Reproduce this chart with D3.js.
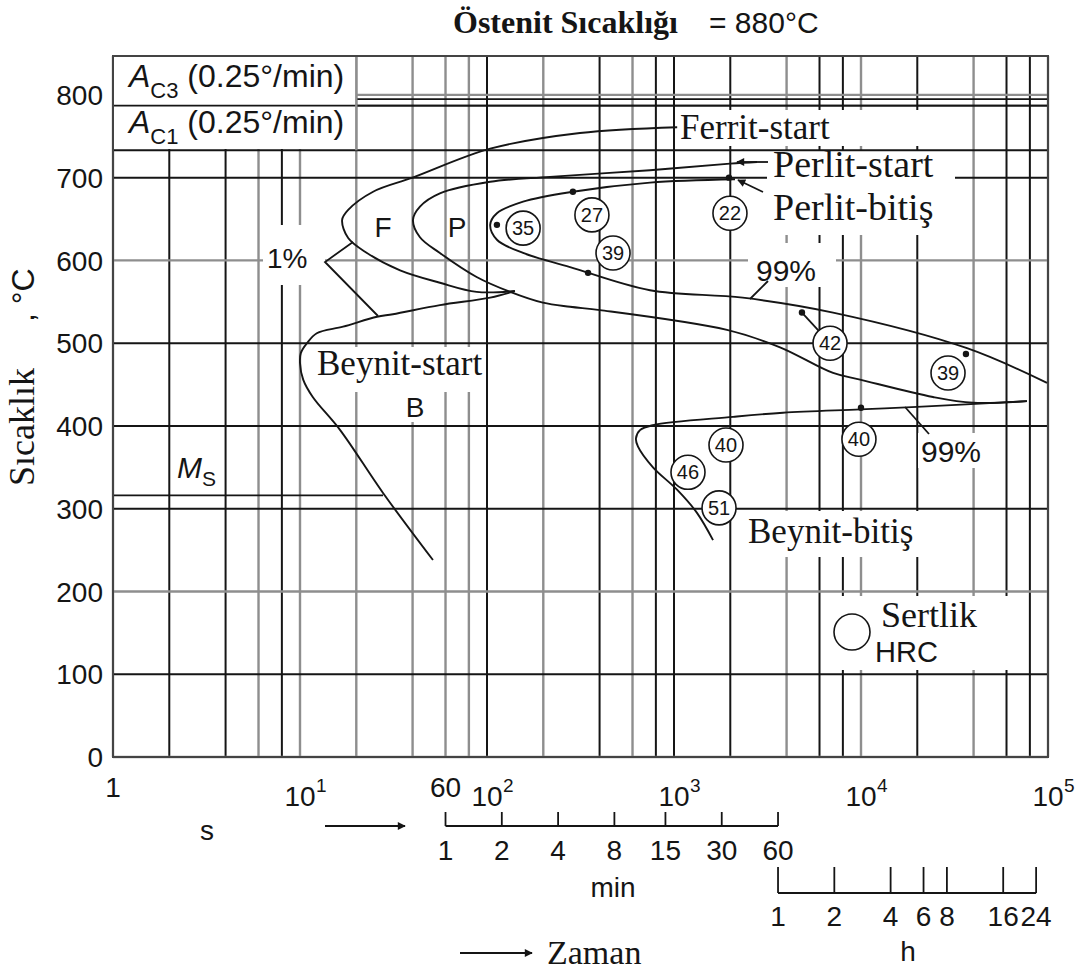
<!DOCTYPE html>
<html>
<head>
<meta charset="utf-8">
<script src="https://cdn.jsdelivr.net/npm/d3@7"></script>
<style>
  body { margin: 0; background: #fff; }
  svg { display: block; }
</style>
</head>
<body>
<div id="chart"></div>
<script>
// ---- data (time in s, temperature in °C) ----
const decades = [1, 10, 100, 1000, 10000];
const gridMultipliers = [1, 2, 4, 6, 8];
const tempTicks = [0, 100, 200, 300, 400, 500, 600, 700, 800];
const minuteTicks = [1, 2, 4, 8, 15, 30, 60];
const hourTicks = [1, 2, 4, 6, 8, 16, 24];

const ac3Temps = [800, 795, 787];
const ac1Temp = 733;
const msTemp = 316;
const msEndTime = 27.8;

// 1% curve, ferrite branch and bainite branch
const ferriteStart = [[1040, 761], [314, 754], [104, 735], [40, 700], [24.6, 683], [18.1, 661], [16.8, 649],
  [18.1, 627], [22.8, 609], [34.3, 588], [56, 573], [88, 562], [141, 563]];
const bainiteStart = [[141, 563], [104, 555], [56, 546], [31.4, 535], [25.8, 532], [17, 520], [12.3, 512],
  [10.9, 500], [10.1, 488], [10, 476], [10.4, 456], [11.7, 435], [16.4, 395], [27.8, 319], [51.4, 238]];
const pearliteStart = [[2780, 719], [1993, 717], [744, 709], [217, 701], [104, 695], [56, 681], [43.8, 665],
  [40.2, 649], [43.8, 628], [56, 609], [88, 580], [133, 562], [199, 549], [278, 544], [402, 540],
  [1920, 516], [3690, 495], [7090, 464], [9880, 456], [24270, 435], [39720, 428], [77200, 430]];
const pearliteFinish = [[2120, 698], [744, 694], [288, 683], [156, 671], [113, 657], [104, 643], [113, 625],
  [156, 609], [278, 592], [744, 564], [2330, 555], [7090, 537], [36880, 494], [98800, 452]];
const bainiteFinish = [[77200, 430], [19930, 423], [9880, 420], [3830, 416], [2070, 411], [772, 401],
  [658, 395], [626, 385], [642, 375], [772, 350], [1038, 323], [1327, 295], [1617, 262]];

const hardnessValues = [35, 27, 39, 22, 42, 39, 40, 46, 51, 40];
const hardnessTimes = [156, 364, 472, 1992, 6830, 29200, 1897, 1188, 1741, 9750];
const hardnessTemps = [639, 655, 609, 657, 500, 464, 377, 344, 301, 384];

const dotTimes = [113, 288, 347, 1968, 4834, 36400, 10000];
const dotTemps = [643, 683, 585, 700, 537, 487, 422];

// ---- layout ----
const W = 1086, H = 971;
const SANS = "'Liberation Sans', Arial, Helvetica, sans-serif";
const SERIF = "'Liberation Serif', 'Times New Roman', serif";
const INK = "#151515";
const GRAY = "#8e8e8e";

const x = d3.scaleLog().domain([1, 1e5]).range([113, 1048]);
const y = d3.scaleLinear().domain([0, 847]).range([757, 56]);

const svg = d3.select("#chart").append("svg")
  .attr("width", W).attr("height", H)
  .style("background", "#fff");

const defs = svg.append("defs");
defs.append("marker").attr("id", "arr")
  .attr("viewBox", "0 0 10 10").attr("refX", 9).attr("refY", 5)
  .attr("markerWidth", 10).attr("markerHeight", 8).attr("markerUnits", "userSpaceOnUse")
  .attr("orient", "auto")
  .append("path").attr("d", "M0,0L10,5L0,10z").attr("fill", INK);

// ---- grid ----
const darkTimes = new Set([2, 4, 8, 100, 400, 800, 1000, 2000, 6000, 8000, 20000, 60000, 80000]);
const darkTemps = new Set([100, 300, 400, 500, 700]);

const gridTimes = [];
decades.forEach(d => gridMultipliers.forEach(m => gridTimes.push(d * m)));
gridTimes.push(1e5);

const grid = svg.append("g");
grid.selectAll(".vg").data(gridTimes).enter().append("line")
  .attr("x1", d => x(d)).attr("x2", d => x(d))
  .attr("y1", y(847)).attr("y2", y(0))
  .attr("stroke", d => darkTimes.has(d) ? INK : GRAY)
  .attr("stroke-width", d => darkTimes.has(d) ? 2 : 2.4);

grid.selectAll(".hg").data(tempTicks).enter().append("line")
  .attr("x1", x(1)).attr("x2", x(1e5))
  .attr("y1", d => y(d)).attr("y2", d => y(d))
  .attr("stroke", d => darkTemps.has(d) ? INK : GRAY)
  .attr("stroke-width", d => darkTemps.has(d) ? 2 : 2.4);

grid.selectAll(".ac3").data(ac3Temps).enter().append("line")
  .attr("x1", x(1)).attr("x2", x(1e5))
  .attr("y1", d => y(d)).attr("y2", d => y(d))
  .attr("stroke", (d, i) => i === 0 ? GRAY : INK).attr("stroke-width", 1.8);

grid.append("line")
  .attr("x1", x(1)).attr("x2", x(msEndTime))
  .attr("y1", y(msTemp)).attr("y2", y(msTemp))
  .attr("stroke", INK).attr("stroke-width", 1.8);

// white label boxes hiding the grid
const boxes = [
  [113, 56, 243, 50], [113, 106, 243, 43],
  [263, 225, 62, 60], [678, 110, 277, 36], [767, 151, 188, 84],
  [748, 243, 88, 44], [313, 347, 172, 45], [400, 392, 32, 30],
  [918, 433, 70, 35], [740, 511, 185, 46], [832, 596, 188, 74]
];
svg.append("g").selectAll("rect").data(boxes).enter().append("rect")
  .attr("x", d => d[0]).attr("y", d => d[1]).attr("width", d => d[2]).attr("height", d => d[3])
  .attr("fill", "#fff");

// lines drawn over the boxes
svg.append("line").attr("x1", x(1)).attr("x2", x(1e5))
  .attr("y1", y(ac3Temps[2])).attr("y2", y(ac3Temps[2]))
  .attr("stroke", INK).attr("stroke-width", 1.8);
svg.append("line").attr("x1", x(1)).attr("x2", x(1e5))
  .attr("y1", y(ac1Temp)).attr("y2", y(ac1Temp))
  .attr("stroke", INK).attr("stroke-width", 2);
svg.append("line").attr("x1", x(20)).attr("x2", x(20))
  .attr("y1", y(847)).attr("y2", y(ac1Temp)).attr("stroke", GRAY).attr("stroke-width", 2.4);

// frame
svg.append("rect").attr("x", x(1)).attr("y", y(847))
  .attr("width", x(1e5) - x(1)).attr("height", y(0) - y(847))
  .attr("fill", "none").attr("stroke", "#444").attr("stroke-width", 2);

// ---- curves ----
const line = d3.line().x(d => x(d[0])).y(d => y(d[1])).curve(d3.curveCatmullRom.alpha(0.5));
const curves = svg.append("g").attr("fill", "none").attr("stroke", INK).attr("stroke-width", 1.9);
[ferriteStart, bainiteStart, pearliteStart, pearliteFinish, bainiteFinish].forEach(c => {
  curves.append("path").attr("d", line(c));
});

// leader lines
const leaders = svg.append("g").attr("stroke", INK).attr("stroke-width", 1.8).attr("fill", "none");
leaders.append("polyline").attr("points", "353,242 325,262 378,316");
leaders.append("line").attr("x1", 768).attr("y1", 281).attr("x2", 750).attr("y2", 299);
leaders.append("line").attr("x1", 905).attr("y1", 407).attr("x2", 929).attr("y2", 434);
leaders.append("line").attr("x1", x(dotTimes[4])).attr("y1", y(dotTemps[4]))
  .attr("x2", x(hardnessTimes[4])).attr("y2", y(hardnessTemps[4]));
leaders.append("line").attr("x1", 768).attr("y1", 162).attr("x2", 737).attr("y2", 162)
  .attr("marker-end", "url(#arr)");
leaders.append("line").attr("x1", 763).attr("y1", 192).attr("x2", 738).attr("y2", 180)
  .attr("marker-end", "url(#arr)");

// dots
svg.append("g").selectAll("circle").data(dotTimes).enter().append("circle")
  .attr("cx", d => x(d)).attr("cy", (d, i) => y(dotTemps[i])).attr("r", 3.2).attr("fill", INK);

// hardness circles
const hard = svg.append("g").selectAll("g").data(hardnessValues).enter().append("g")
  .attr("transform", (d, i) => `translate(${x(hardnessTimes[i])},${y(hardnessTemps[i])})`);
hard.append("circle").attr("r", 17).attr("fill", "#fff").attr("stroke", INK).attr("stroke-width", 1.6);
hard.append("text").text(d => d).attr("text-anchor", "middle").attr("dy", "0.36em")
  .attr("font-family", SANS).attr("font-size", 20).attr("fill", INK);

// ---- texts ----
const txt = (px, py, s, size, family, opts = {}) => {
  const t = svg.append("text").attr("x", px).attr("y", py).text(s)
    .attr("font-size", size).attr("font-family", family).attr("fill", INK);
  Object.entries(opts).forEach(([k, v]) => t.attr(k, v));
  return t;
};

// title
txt(453, 33, "Östenit Sıcaklığı", 32, SERIF, { "font-weight": "bold" });
txt(709, 33, "= 880°C", 30, SANS);

// A_C3 / A_C1
[[87, "3"], [133, "1"]].forEach(([by, n]) => {
  const t = svg.append("text").attr("x", 129).attr("y", by).attr("fill", INK)
    .attr("font-family", SANS).attr("font-size", 32);
  t.append("tspan").text("A").attr("font-style", "italic");
  t.append("tspan").text("C" + n).attr("font-size", 22).attr("dy", 11);
  t.append("tspan").text(" (0.25°/min)").attr("dy", -11);
});

// M_S
{
  const t = svg.append("text").attr("x", 177).attr("y", 478).attr("fill", INK)
    .attr("font-family", SANS).attr("font-size", 30);
  t.append("tspan").text("M").attr("font-style", "italic");
  t.append("tspan").text("S").attr("font-size", 21).attr("dy", 8);
}

txt(267, 268, "1%", 28, SANS);
txt(383, 237, "F", 28, SANS, { "text-anchor": "middle" });
txt(457, 237, "P", 28, SANS, { "text-anchor": "middle" });
txt(680, 139, "Ferrit-start", 35, SERIF);
txt(773, 177, "Perlit-start", 38, SERIF);
txt(773, 220, "Perlit-bitiş", 38, SERIF);
txt(756, 281, "99%", 30, SANS);
txt(921, 462, "99%", 30, SANS);
txt(317, 375, "Beynit-start", 35, SERIF);
txt(415, 417, "B", 28, SANS, { "text-anchor": "middle" });
txt(748, 543, "Beynit-bitiş", 35, SERIF);

// hardness legend
svg.append("circle").attr("cx", 852).attr("cy", 632).attr("r", 18)
  .attr("fill", "none").attr("stroke", INK).attr("stroke-width", 1.6);
txt(881, 627, "Sertlik", 36, SERIF);
txt(875, 662, "HRC", 29, SANS);

// y tick labels
svg.append("g").selectAll("text").data(tempTicks).enter().append("text")
  .attr("x", 103).attr("y", d => y(d)).attr("dy", "0.36em")
  .attr("text-anchor", "end").attr("font-family", SANS).attr("font-size", 28).attr("fill", INK)
  .text(d => d);

// y title
svg.append("text").attr("transform", "translate(34,486) rotate(-90)")
  .attr("font-family", SERIF).attr("font-size", 36).attr("fill", INK).text("Sıcaklık");
svg.append("text").attr("transform", "translate(34,322) rotate(-90)")
  .attr("font-family", SANS).attr("font-size", 32).attr("fill", INK).text(", °C");

// x tick labels (seconds)
txt(x(1), 797, "1", 28, SANS, { "text-anchor": "middle" });
txt(x(60), 797, "60", 28, SANS, { "text-anchor": "middle" });
const pow = svg.append("g").selectAll("g").data(decades.slice(1).concat([1e5])).enter().append("g")
  .attr("transform", d => `translate(${x(d)},806)`);
pow.append("text").text("10").attr("text-anchor", "middle")
  .attr("font-family", SANS).attr("font-size", 28).attr("fill", INK);
pow.append("text").text(d => Math.round(Math.log10(d))).attr("x", 16).attr("y", -14)
  .attr("font-family", SANS).attr("font-size", 19).attr("fill", INK);

txt(207, 840, "s", 28, SANS, { "text-anchor": "middle" });
svg.append("line").attr("x1", 325).attr("x2", 405).attr("y1", 826).attr("y2", 826)
  .attr("stroke", INK).attr("stroke-width", 1.8).attr("marker-end", "url(#arr)");

// minute scale
const minY = 826;
svg.append("line").attr("x1", x(60)).attr("x2", x(3600)).attr("y1", minY).attr("y2", minY)
  .attr("stroke", INK).attr("stroke-width", 1.8);
const mt = svg.append("g").selectAll("g").data(minuteTicks).enter().append("g")
  .attr("transform", d => `translate(${x(d * 60)},${minY})`);
mt.append("line").attr("y1", 0).attr("y2", -14).attr("stroke", INK).attr("stroke-width", 1.8);
mt.append("text").text(d => d).attr("y", 34).attr("text-anchor", "middle")
  .attr("font-family", SANS).attr("font-size", 28).attr("fill", INK);
txt(613, 897, "min", 28, SANS, { "text-anchor": "middle" });

// hour scale
const hrY = 893;
svg.append("line").attr("x1", x(3600)).attr("x2", x(24 * 3600)).attr("y1", hrY).attr("y2", hrY)
  .attr("stroke", INK).attr("stroke-width", 1.8);
const ht = svg.append("g").selectAll("g").data(hourTicks).enter().append("g")
  .attr("transform", d => `translate(${x(d * 3600)},${hrY})`);
ht.append("line").attr("y1", 0).attr("y2", -26).attr("stroke", INK).attr("stroke-width", 1.8);
ht.append("text").text(d => d).attr("y", 33).attr("text-anchor", "middle")
  .attr("font-family", SANS).attr("font-size", 28).attr("fill", INK);
txt(908, 961, "h", 28, SANS, { "text-anchor": "middle" });

// Zaman
svg.append("line").attr("x1", 460).attr("x2", 532).attr("y1", 953).attr("y2", 953)
  .attr("stroke", INK).attr("stroke-width", 1.8).attr("marker-end", "url(#arr)");
txt(547, 964, "Zaman", 34, SERIF);
</script>
</body>
</html>
